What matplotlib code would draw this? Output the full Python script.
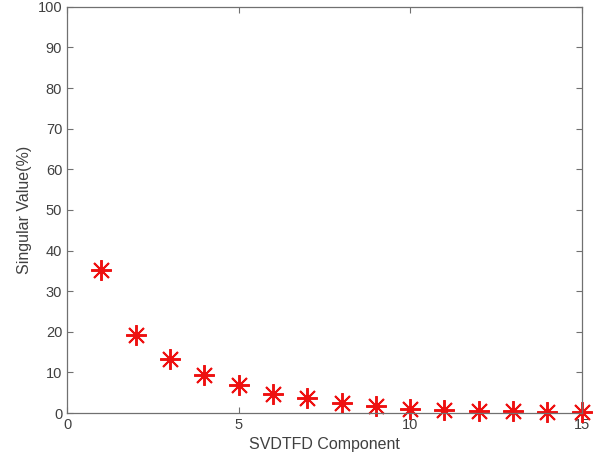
import numpy as np
import matplotlib.pyplot as plt

# singular values of each SVDTFD component (percent)
components = [1, 2, 3, 4, 5, 6, 7, 8, 9, 10, 11, 12, 13, 14, 15]
singular_values = [35.1, 19.3, 13.3, 9.4, 6.8, 4.8, 3.6, 2.4, 1.8, 0.9, 0.7, 0.4, 0.5, 0.2, 0.2]

plt.rcParams['font.family'] = ['Liberation Sans', 'DejaVu Sans']
axis_grey = '#707070'
text_grey = '#404040'

fig = plt.figure(figsize=(5.93, 4.68), dpi=100)
ax = fig.add_axes([0.113, 0.1175, 0.868, 0.868])

ax.plot(components, singular_values, linestyle='none', marker=(8, 2, 0),
        markersize=15, markeredgewidth=1.4, color='#ee1111', clip_on=False)

ax.set_xlim(0, 15)
ax.set_ylim(0, 100)
ax.set_xticks([0, 5, 10, 15])
ax.set_yticks(np.arange(0, 101, 10))
ax.tick_params(direction='in', top=True, right=True, length=4, width=0.8,
               colors=axis_grey, labelsize=10.5, labelcolor=text_grey)
for s in ax.spines.values():
    s.set_color(axis_grey)
    s.set_linewidth(0.9)

ax.set_xlabel('SVDTFD Component', fontsize=11.5, color=text_grey)
ax.set_ylabel('Singular Value(%)', fontsize=11.5, color=text_grey)

fig.savefig('out.png', dpi=100)
